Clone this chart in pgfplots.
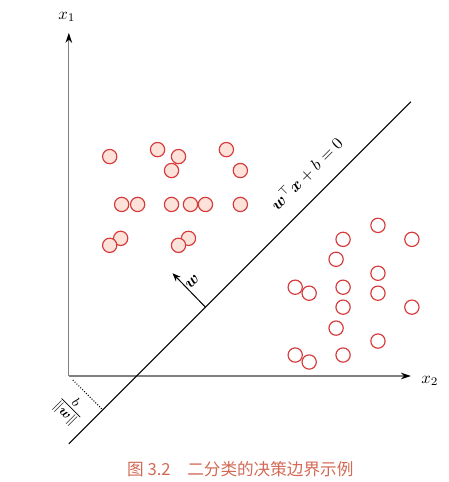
\documentclass[border=0pt]{standalone}
\usepackage{amsmath}
\usepackage{bm}
\usepackage{fontspec}
\newfontfamily\cjk{Noto Sans CJK SC}
\usepackage{pgfplots}
\pgfplotsset{compat=1.18}
\usetikzlibrary{arrows.meta}

\definecolor{ptred}{RGB}{214,58,58}
\definecolor{ptfill}{RGB}{252,226,216}
\definecolor{capred}{RGB}{210,105,85}

\begin{document}
\begin{tikzpicture}
\begin{axis}[
    scale only axis,
    width=270pt, height=289.2pt,
    xmin=-6.9, xmax=38.1,
    ymin=-10.5, ymax=37.7,
    hide axis,
    clip=false,
]
% invisible frame, keeps the page at the reference size
\path (axis cs:-6.9,-10.5) rectangle (axis cs:38.1,37.7);

% axes
\draw[gray, line width=0.7pt, -{Stealth[black,length=6pt,width=4pt]}]
    (axis cs:0,0) -- (axis cs:34.3,0);
\draw[gray, line width=0.7pt, -{Stealth[black,length=6pt,width=4pt]}]
    (axis cs:0,0) -- (axis cs:0,34.4);
\node at (axis cs:36.2,-0.5) {$x_2$};
\node at (axis cs:-0.2,36.0) {$x_1$};

% class 1 (filled)
\addplot[only marks, mark=*, mark size=4.3pt,
    mark options={draw=ptred, fill=ptfill, line width=0.7pt}]
coordinates {
    (4.1,22.0) (8.9,22.7) (11.0,22.0) (10.3,20.6) (15.8,22.7) (17.2,20.6)
    (5.3,17.2) (6.9,17.2) (10.3,17.2) (12.2,17.2) (13.7,17.2) (17.2,17.2)
    (5.2,13.8) (4.1,13.1) (12.0,13.8) (11.0,13.1)
};

% class 2 (open)
\addplot[only marks, mark=*, mark size=4.3pt,
    mark options={draw=ptred, fill=white, line width=0.7pt}]
coordinates {
    (31.0,15.1) (27.5,13.7) (34.4,13.7) (26.8,11.7) (31.0,10.3)
    (22.7,8.9) (24.1,8.3) (27.5,8.9) (31.0,8.3)
    (27.5,6.9) (34.4,6.9) (26.8,4.8) (31.0,3.5)
    (22.7,2.1) (24.1,1.4) (27.5,2.1)
};

% decision boundary  x1 = x2 - 6.8
\addplot[black, line width=0.6pt] coordinates {(0,-6.8) (34.3,27.5)};

% normal vector w
\addplot[black, line width=0.6pt, -{Stealth[length=5pt,width=4pt]}]
    coordinates {(13.7,6.9) (10.4,10.3)};

% distance from origin
\addplot[black, densely dotted, line width=0.6pt]
    coordinates {(0.4,-0.4) (3.4,-3.4)};

\node[rotate=45] at (axis cs:23.8,20.3) {$\bm{w}^{\top}\bm{x}+b=0$};
\node[rotate=45] at (axis cs:12.4,9.4) {$\bm{w}$};
\node[rotate=-45, font=\large] at (axis cs:0.1,-3.3) {$\frac{b}{\|\bm{w}\|}$};

\node[text=capred, font=\cjk\fontsize{10}{12}\selectfont]
    at (axis cs:17.2,-9.3) {图 3.2\quad 二分类的决策边界示例};
\end{axis}
\end{tikzpicture}
\end{document}
